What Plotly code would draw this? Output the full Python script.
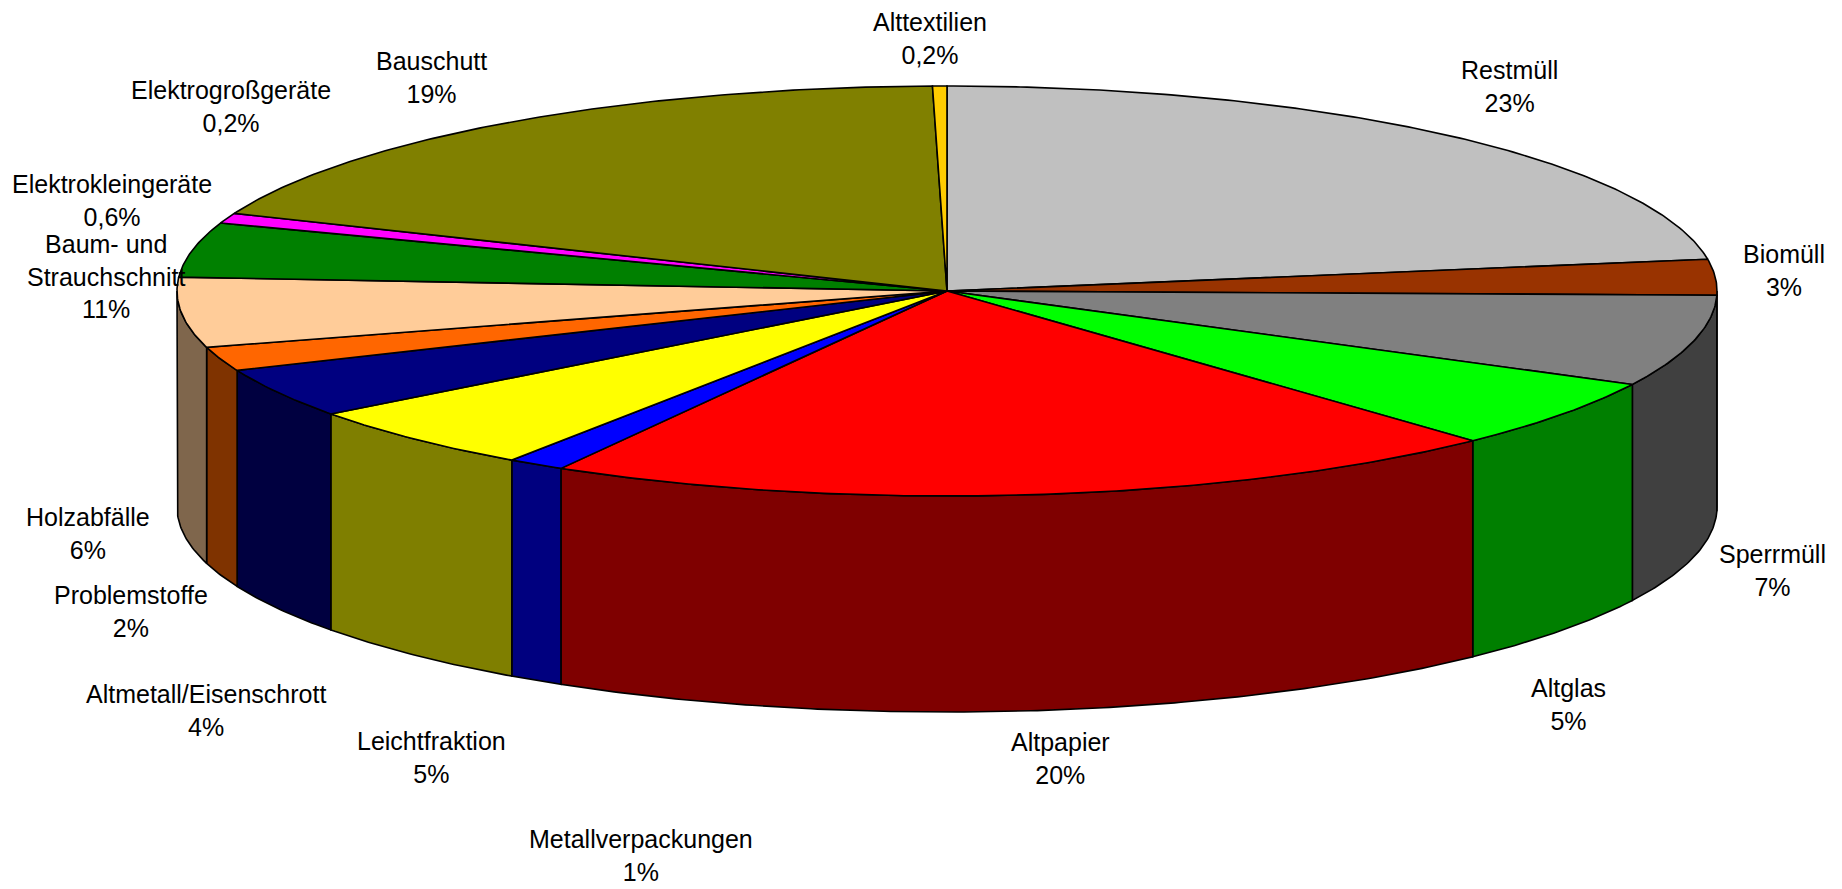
import numpy as np
import plotly.graph_objects as go

# ---- data (shares) ----
categories = ["Restmüll", "Biomüll", "Sperrmüll", "Altglas", "Altpapier",
              "Metallverpackungen", "Leichtfraktion", "Altmetall/Eisenschrott",
              "Problemstoffe", "Holzabfälle", "Baum- und<br>Strauchschnitt",
              "Elektrokleingeräte", "Elektrogroßgeräte", "Bauschutt", "Alttextilien"]
shares = [22.5, 2.8, 7.2, 5.5, 20.3, 1.2, 5.2, 3.9, 1.9, 5.5, 4.3, 0.8, 0.0, 18.5, 0.3]
pct_labels = ["23%", "3%", "7%", "5%", "20%", "1%", "5%", "4%", "2%", "6%",
              "11%", "0,6%", "0,2%", "19%", "0,2%"]

# ---- styles ----
top_colors = ["#C0C0C0", "#993300", "#808080", "#00FF00", "#FF0000",
              "#0000FF", "#FFFF00", "#000080", "#FF6600", "#FFCC99",
              "#008000", "#FF00FF", "#800080", "#808000", "#FFCC00"]

# label anchor positions (pixels in the figure)
label_pos = [(1509, 86), (1784, 270), (1772, 570), (1568, 704), (1060, 758),
             (641, 855), (431, 757), (206, 710), (131, 611), (88, 533),
             (106, 276), (112, 200), (231, 106), (431, 77), (930, 38)]

W, H = 1842, 889
CX, CY, RX, RY, DEPTH = 947, 291, 770, 205, 216


def darker(hexcol):
    h = hexcol.lstrip("#")
    r, g, b = (int(h[i:i + 2], 16) // 2 for i in (0, 2, 4))
    return f"#{r:02X}{g:02X}{b:02X}"


def arc(a, b, dy=0.0):
    n = max(2, int(abs(b - a) * 2) + 2)
    t = np.radians(np.linspace(a, b, n))
    return CX + RX * np.sin(t), CY - RY * np.cos(t) + dy


total = sum(shares)
bounds = np.concatenate([[0.0], np.cumsum(shares) / total * 360.0])

fig = go.Figure()

# side walls (front half only)
for i in range(len(shares)):
    a, b = max(bounds[i], 90.0), min(bounds[i + 1], 270.0)
    if b - a <= 1e-6:
        continue
    xt, yt = arc(a, b)
    xb, yb = arc(b, a, DEPTH)
    fig.add_trace(go.Scatter(
        x=np.concatenate([xt, xb, xt[:1]]), y=np.concatenate([yt, yb, yt[:1]]),
        mode="lines", fill="toself", fillcolor=darker(top_colors[i]),
        line=dict(color="black", width=1.6), hoverinfo="skip", showlegend=False))

# top faces
for i in range(len(shares)):
    a, b = bounds[i], bounds[i + 1]
    if b - a <= 1e-6:
        continue
    xa, ya = arc(a, b)
    fig.add_trace(go.Scatter(
        x=np.concatenate([[CX], xa, [CX]]), y=np.concatenate([[CY], ya, [CY]]),
        mode="lines", fill="toself", fillcolor=top_colors[i],
        line=dict(color="black", width=1.6), hoverinfo="skip", showlegend=False))

for cat, pct, (lx, ly) in zip(categories, pct_labels, label_pos):
    fig.add_annotation(x=lx, y=ly, xref="x", yref="y", text=f"{cat}<br>{pct}",
                       showarrow=False, xanchor="center", yanchor="middle",
                       font=dict(family="Liberation Sans, Arial", size=25, color="black"))

fig.update_layout(
    width=W, height=H, margin=dict(l=0, r=0, t=0, b=0),
    paper_bgcolor="white", plot_bgcolor="white",
    xaxis=dict(range=[0, W], visible=False, fixedrange=True),
    yaxis=dict(range=[H, 0], visible=False, fixedrange=True),
)

fig.write_html("out.html", config={"displayModeBar": False},
               post_script="document.body.style.margin='0';document.body.style.overflow='hidden';")
